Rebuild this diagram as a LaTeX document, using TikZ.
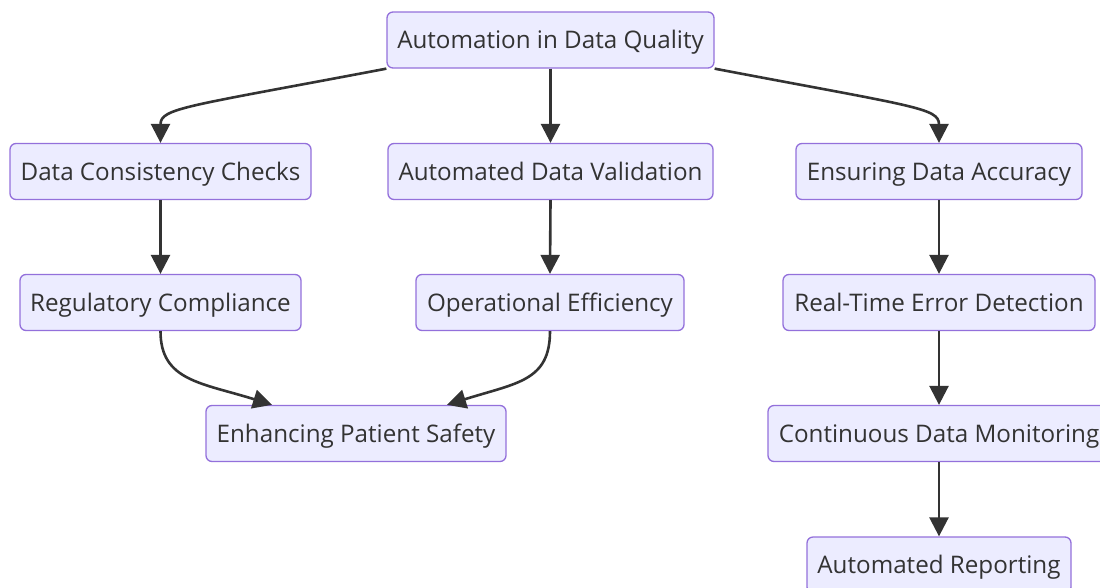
\documentclass[tikz,border=0pt]{standalone}
\usepackage{fontspec}
\setmainfont{Open Sans}
\usetikzlibrary{arrows.meta}
\definecolor{boxfill}{HTML}{ECECFF}
\definecolor{boxline}{HTML}{9370DB}
\definecolor{ink}{HTML}{333333}
\tikzset{
  box/.style={draw=boxline, fill=boxfill, line width=1.3pt, rounded corners=6pt,
    minimum height=56pt, inner sep=0pt, text height=22pt, text depth=5pt,
    text=ink, font=\fontsize{24.2}{29}\selectfont},
  link/.style={draw=ink, line width=2.6pt, -{Triangle[length=19pt,width=19pt]}},
}
\begin{document}
\begin{tikzpicture}[x=1pt,y=-1pt]
\useasboundingbox (0,0) rectangle (1100,587);
\node[box, minimum width=327pt] (a) at (550.5,40) {Automation in Data Quality};
\node[box, minimum width=301pt] (dcc) at (160.5,171.5) {Data Consistency Checks};
\node[box, minimum width=325pt] (adv) at (550.5,171.5) {Automated Data Validation};
\node[box, minimum width=286pt] (eda) at (939,171.5) {Ensuring Data Accuracy};
\node[box, minimum width=281pt] (rc) at (160.5,302.5) {Regulatory Compliance};
\node[box, minimum width=268pt] (oe) at (550,302.5) {Operational Efficiency};
\node[box, minimum width=312pt] (rted) at (939,302.5) {Real-Time Error Detection};
\node[box, minimum width=300pt] (eps) at (356,433.5) {Enhancing Patient Safety};
\node[box, minimum width=342pt] (cdm) at (939,433.5) {Continuous Data Monitoring};
\node[box, minimum width=264pt] (ar) at (939,565) {Automated Reporting};

\draw[link] (a.south west) .. controls +(-200,38) and +(0,-35) .. (dcc.north);
\draw[link] (a.south) -- (adv.north);
\draw[link] (a.south east) .. controls +(200,38) and +(0,-35) .. (eda.north);
\draw[link] (dcc.south) -- (rc.north);
\draw[link] (adv.south) -- (oe.north);
\draw[link] (eda.south) -- (rted.north);
\draw[link] (rc.south) .. controls +(0,50) and +(-70,-22) .. ([xshift=-84pt]eps.north);
\draw[link] (oe.south) .. controls +(0,50) and +(70,-22) .. ([xshift=91pt]eps.north);
\draw[link] (rted.south) -- (cdm.north);
\draw[link] (cdm.south) -- (ar.north);
\end{tikzpicture}
\end{document}
